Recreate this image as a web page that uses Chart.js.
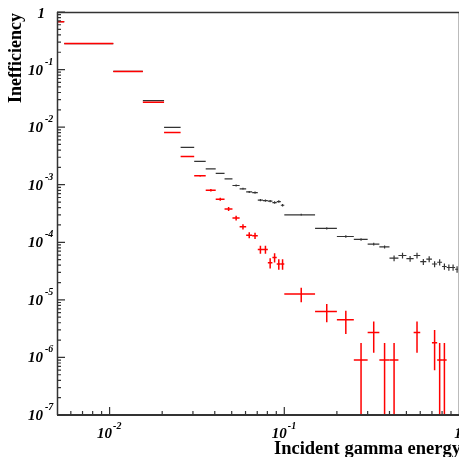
<!DOCTYPE html>
<html><head><meta charset="utf-8">
<script src="https://cdn.jsdelivr.net/npm/chart.js@4/dist/chart.umd.min.js"></script>
<style>html,body{margin:0;padding:0;background:#fff;} #wrap{width:459px;height:457px;}</style>
</head><body><div id="wrap"><canvas id="c" width="459" height="457"></canvas></div>
<script>
// Bin edges (incident gamma energy)
const binLow  = [0.0005,0.0055,0.0105,0.0155,0.0205,0.0255,0.0305,0.0355,0.0405,0.0455,
                 0.0505,0.0555,0.0605,0.0655,0.0705,0.0755,0.0805,0.0855,0.0905,0.0955,
                 0.10,0.15,0.20,0.25,0.30,0.35,0.40,0.45,0.50,0.55,0.60,0.65,0.70,0.75,0.80,0.85,0.90,0.95];
const binHigh = [0.0055,0.0105,0.0155,0.0205,0.0255,0.0305,0.0355,0.0405,0.0455,0.0505,
                 0.0555,0.0605,0.0655,0.0705,0.0755,0.0805,0.0855,0.0905,0.0955,0.10,
                 0.15,0.20,0.25,0.30,0.35,0.40,0.45,0.50,0.55,0.60,0.65,0.70,0.75,0.80,0.85,0.90,0.95,1.00];
// Black series
const blackValues = [0.68,0.283,0.093,0.0289,0.0099,0.00446,0.00254,0.00188,0.00157,0.00126,
                     0.00097,0.00085,0.00075,0.00073,0.00054,0.00053,0.00052,0.00049,0.00051,0.00044,
                     0.0003,0.000174,0.000126,0.000112,9.3e-5,8.3e-5,5.3e-5,5.9e-5,5.2e-5,5.9e-5,
                     4.6e-5,5.1e-5,4.2e-5,4.5e-5,3.8e-5,3.65e-5,3.65e-5,3.4e-5];
const blackErrors = [0.002,0.001,0.0005,0.0002,0.00008,0.00005,0.00004,0.00003,0.00003,0.000025,
                     0.00004,0.000035,0.00003,0.00003,0.000025,0.000025,0.000025,0.000024,0.000025,0.000022,
                     0.000012,8e-6,6e-6,6e-6,5e-6,5e-6,6e-6,6.5e-6,6e-6,6.5e-6,
                     5.5e-6,6e-6,5e-6,5.5e-6,4.8e-6,4.6e-6,4.6e-6,4.4e-6];
// Red series
const redValues = [0.68,0.283,0.093,0.027,0.0081,0.0031,0.00143,0.0008,0.00056,0.00038,
                   0.000264,0.000186,0.000133,0.00013,7.5e-5,7.5e-5,4.4e-5,5.45e-5,4.2e-5,4.2e-5,
                   1.27e-5,6.3e-6,4.5e-6,9.0e-7,2.7e-6,9.0e-7,9.0e-7,null,null,2.7e-6,
                   null,null,1.8e-6,9.0e-7,9.0e-7,null,null,null];
const redErrors = [0.004,0.002,0.001,0.0004,0.00015,0.00008,0.00005,0.00004,0.000035,0.00003,
                   0.000026,0.000019,0.000016,0.000016,0.000012,0.000012,0.000009,0.00001,0.0000085,0.0000085,
                   3.6e-6,2.2e-6,1.95e-6,8.8e-7,1.5e-6,8.8e-7,8.8e-7,null,null,1.5e-6,
                   null,null,1.2e-6,8.8e-7,8.8e-7,null,null,null];
// Axis tick labels (powers of ten)
const xTickExponents = [-2,-1,0];
const yTickExponents = [0,-1,-2,-3,-4,-5,-6,-7];
const xTitle = 'Incident gamma energy';
const yTitle = 'Inefficiency';

function makePoints(vals, errs){
  return vals.map((v,i)=>({x:(binLow[i]+binHigh[i])/2, y:v, lo:binLow[i], hi:binHigh[i], e:errs[i]||0}));
}

const errorBars = {
  id:'errorBars',
  afterDatasetsDraw(chart){
    const ctx=chart.ctx, xs=chart.scales.x, ys=chart.scales.y, a=chart.chartArea;
    ctx.save();
    ctx.beginPath(); ctx.rect(a.left,a.top,a.right-a.left,a.bottom-a.top); ctx.clip();
    chart.data.datasets.forEach(ds=>{
      ctx.strokeStyle=ds.borderColor; ctx.lineWidth=ds.borderWidth;
      ds.data.forEach(p=>{
        if(p.y==null) return;
        const x0=xs.getPixelForValue(p.lo), x1=xs.getPixelForValue(p.hi), xc=xs.getPixelForValue(p.x);
        const y=ys.getPixelForValue(p.y);
        const yT=ys.getPixelForValue(p.y+p.e);
        const lv=p.y-p.e;
        const yB= lv>0 ? ys.getPixelForValue(lv) : a.bottom+10;
        ctx.beginPath();
        ctx.moveTo(x0,y); ctx.lineTo(x1,y);
        if(p.e>0){ ctx.moveTo(xc,yT); ctx.lineTo(xc,yB); }
        ctx.stroke();
      });
    });
    ctx.restore();
  }
};

const frame = {
  id:'frame',
  afterDraw(chart){
    const ctx=chart.ctx, xs=chart.scales.x, ys=chart.scales.y, a=chart.chartArea;
    ctx.save();
    ctx.strokeStyle='#bbbbbb'; ctx.lineWidth=1;
    ctx.beginPath(); ctx.moveTo(a.right-0.5,a.top); ctx.lineTo(a.right-0.5,a.bottom); ctx.stroke();
    ctx.strokeStyle='#333'; ctx.lineWidth=1.5;
    ctx.beginPath(); ctx.moveTo(a.left,a.top+0.5); ctx.lineTo(a.right,a.top+0.5); ctx.stroke();
    ctx.beginPath(); ctx.moveTo(a.left+0.5,a.top); ctx.lineTo(a.left+0.5,a.bottom); ctx.stroke();
    ctx.lineWidth=2;
    ctx.beginPath(); ctx.moveTo(a.left,a.bottom); ctx.lineTo(a.right,a.bottom); ctx.stroke();
    ctx.lineWidth=1.2;
    ctx.beginPath();
    for(let k=0;k>=-7;k--){
      const y=ys.getPixelForValue(Math.pow(10,k));
      ctx.moveTo(a.left,y); ctx.lineTo(a.left+8,y);
      if(k>-7){
        for(let m=2;m<=9;m++){
          const yy=ys.getPixelForValue(m*Math.pow(10,k-1));
          ctx.moveTo(a.left,yy); ctx.lineTo(a.left+4,yy);
        }
      }
    }
    for(let k=-3;k<=-1;k++){
      for(let m=1;m<=9;m++){
        const v=m*Math.pow(10,k);
        if(v<=0.00501 || v>1) continue;
        const x=xs.getPixelForValue(v);
        const len = (m===1)?8:4;
        ctx.moveTo(x,a.bottom); ctx.lineTo(x,a.bottom-len);
      }
    }
    ctx.stroke();
    ctx.fillStyle='#000';
    const big="bold italic 15px 'Liberation Serif'", small="bold italic 10px 'Liberation Serif'";
    yTickExponents.forEach(k=>{
      const y=ys.getPixelForValue(Math.pow(10,k));
      if(k===0){
        ctx.font=big; ctx.textAlign='right'; ctx.fillText('1',45,y+6);
      } else {
        ctx.font=big; ctx.textAlign='right'; ctx.fillText('10',43,y+5);
        ctx.font=small; ctx.textAlign='left'; ctx.fillText(String(k),45,y-5);
      }
    });
    xTickExponents.forEach(k=>{
      const x=xs.getPixelForValue(Math.pow(10,k));
      if(k===0){
        ctx.font=big; ctx.textAlign='center'; ctx.fillText('1',x-1,a.bottom+23);
      } else {
        ctx.font=big; ctx.textAlign='right'; ctx.fillText('10',x+2.5,a.bottom+23);
        ctx.font=small; ctx.textAlign='left'; ctx.fillText(String(k),x+3.5,a.bottom+14);
      }
    });
    ctx.font="bold 18.5px 'Liberation Serif'"; ctx.textAlign='right';
    ctx.fillText(xTitle, 461, 454);
    ctx.save();
    ctx.translate(21,13); ctx.rotate(-Math.PI/2);
    ctx.font="bold 18px 'Liberation Serif'"; ctx.textAlign='right';
    ctx.fillText(yTitle,0,0);
    ctx.restore();
    ctx.restore();
  }
};

new Chart(document.getElementById('c'),{
  type:'scatter',
  data:{datasets:[
    {label:'black', data:makePoints(blackValues,blackErrors), borderColor:'#333333', borderWidth:1.2, pointRadius:0, showLine:false},
    {label:'red', data:makePoints(redValues,redErrors), borderColor:'#ff0000', borderWidth:1.5, pointRadius:0, showLine:false}
  ]},
  options:{
    responsive:false, animation:false, devicePixelRatio:1,
    layout:{padding:{left:57,top:12,right:0,bottom:42}},
    scales:{
      x:{type:'logarithmic',min:0.005,max:1,display:false},
      y:{type:'logarithmic',min:1e-7,max:1,display:false}
    },
    plugins:{legend:{display:false},tooltip:{enabled:false}}
  },
  plugins:[errorBars,frame]
});
</script></body></html>
